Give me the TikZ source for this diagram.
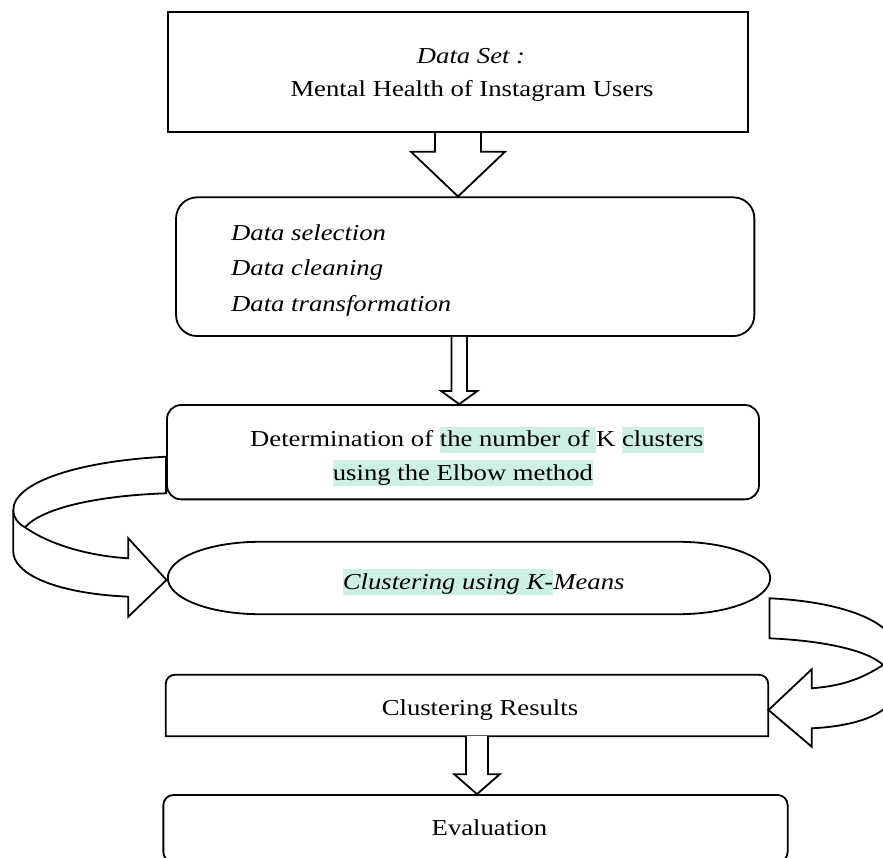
\documentclass[tikz,border=0pt]{standalone}
\usepackage{fontspec}
\setmainfont{Liberation Serif}[FakeStretch=1.17]
\usetikzlibrary{calc}
\definecolor{hlcol}{RGB}{206,239,228}
\newcommand{\hlbox}[1]{{\setlength{\fboxsep}{0pt}\colorbox{hlcol}{\rule[-0.27em]{0pt}{1.13em}#1}}}
\begin{document}
\begin{tikzpicture}[x=1pt,y=-1pt,
  line/.style={draw=black,line width=1.8pt,line join=miter},
  band/.style={line,fill=white},
  txt/.style={inner sep=0pt,font=\fontsize{22.8}{27}\selectfont}]
\useasboundingbox (0,0) rectangle (883,858);
\fill[white] (0,0) rectangle (883,858);
\clip (0,0) rectangle (883,858);
% boxes
\node[line, minimum width=579.7pt, minimum height=120.3pt] (ds) at (458,72.2) {};
\node[line, rounded corners=21pt, minimum width=578.3pt, minimum height=138.7pt] (dp) at (465.2,266.7) {};
\node[line, rounded corners=14pt, minimum width=592pt, minimum height=94.3pt] (dm) at (463,452.2) {};
\node[minimum width=602pt, minimum height=72pt] (km) at (469,578) {};
\node[minimum width=602pt, minimum height=61pt] (cr) at (467,705.5) {};
\node[line, rounded corners=10pt, minimum width=624.3pt, minimum height=67pt] (ev) at (475.5,828.5) {};
% stadium outline of km
\draw[line] ($(km.north west)+(92,0)$) -- ($(km.north east)+(-92,0)$)
  .. controls ($(km.north east)+(-41,0)$) and ($(km.east)+(0,-20)$) .. (km.east)
  .. controls ($(km.east)+(0,20)$) and ($(km.south east)+(-41,0)$) .. ($(km.south east)+(-92,0)$)
  -- ($(km.south west)+(92,0)$)
  .. controls ($(km.south west)+(41,0)$) and ($(km.west)+(0,20)$) .. (km.west)
  .. controls ($(km.west)+(0,-20)$) and ($(km.north west)+(41,0)$) .. ($(km.north west)+(92,0)$) -- cycle;
% top-rounded outline of cr
\draw[line] (cr.south west) -- ($(cr.north west)+(0,9)$)
  .. controls ($(cr.north west)+(0,4)$) and ($(cr.north west)+(4,0)$) .. ($(cr.north west)+(9,0)$)
  -- ($(cr.north east)+(-9,0)$)
  .. controls ($(cr.north east)+(-4,0)$) and ($(cr.north east)+(0,4)$) .. ($(cr.north east)+(0,9)$)
  -- (cr.south east) -- cycle;
% texts
\node[txt, anchor=base] (t1) at (471,63.3) {\itshape Data Set :};
\node[txt, anchor=base] (t2) at (472,96.7) {Mental Health of Instagram Users};
\node[txt, anchor=base west] (p1) at (231,240.7) {\itshape Data selection};
\node[txt, anchor=base west] (p2) at (231,276) {\itshape Data cleaning};
\node[txt, anchor=base west] (p3) at (231,311.7) {\itshape Data transformation};
\node[txt, anchor=base west] (m1) at (250,446.7) {Determination of \hlbox{the number of }K \hlbox{clusters}};
\node[txt, anchor=base west] (m2) at (332.7,480) {\hlbox{using the Elbow method}};
\node[txt, anchor=base west] (k1) at (342.7,589) {\itshape\hlbox{Clustering using K-}Means};
\node[txt, anchor=base] (r1) at (480,715) {Clustering Results};
\node[txt, anchor=base] (e1) at (489.5,835) {Evaluation};
% straight block arrows
\draw[band] ($(ds.south)+(-23,0)$) -- ($(ds.south)+(-23,18.5)$) -- ($(ds.south)+(-47,18.5)$)
  -- (ds.south |- dp.north) -- ($(ds.south)+(47,18.5)$) -- ($(ds.south)+(23,18.5)$) -- ($(ds.south)+(23,0)$);
\coordinate (aB) at ($(dp.south)+(-6,0)$);
\draw[band] ($(aB)+(-7.7,0)$) -- ($(aB)+(-7.7,54)$) -- ($(aB)+(-18.2,54)$)
  -- (aB |- dm.north) -- ($(aB)+(18.2,54)$) -- ($(aB)+(7.7,54)$) -- ($(aB)+(7.7,0)$);
\coordinate (aC) at ($(cr.south)+(10,0)$);
\draw[band] ($(aC)+(-11,0)$) -- ($(aC)+(-11,38)$) -- ($(aC)+(-22.8,38)$)
  -- (aC |- ev.north) -- ($(aC)+(22.8,38)$) -- ($(aC)+(11,38)$) -- ($(aC)+(11,0)$);
% curved block arrow, left: dm -> km
\draw[band] ($(dm.west)+(0,4.5)$) .. controls (80,461) and (13.3,482) .. (13.3,510)
  -- (13.3,551.7) .. controls (13.3,572) and (50,593) .. (128.3,596.7)
  -- (128.3,616.7) -- ($(km.west)+(-1.3,2)$) -- (128.3,538.3) -- (128.3,558.3)
  .. controls (90,556) and (50,545) .. (25,527.3)
  .. controls (40,510) and (90,496) .. ($(dm.west)+(0,41.1)$) -- cycle;
\draw[line] (13.3,510) .. controls (13.3,518) and (18,523.5) .. (25,527.3);
% curved block arrow, right: km -> cr
\draw[band] ($(km.east)+(-0.7,20.3)$) .. controls (850,602) and (895,625) .. (895,648)
  -- (895,689) .. controls (895,712) and (860,726) .. (811.7,728.3)
  -- (811.7,746.7) -- ($(cr.east)+(0.3,4.5)$) -- (811.7,669.3) -- (811.7,688.3)
  .. controls (840,686) and (860,680) .. (883,665)
  .. controls (870,652) and (830,641) .. ($(km.east)+(-0.7,60.3)$) -- cycle;
\end{tikzpicture}
\end{document}
